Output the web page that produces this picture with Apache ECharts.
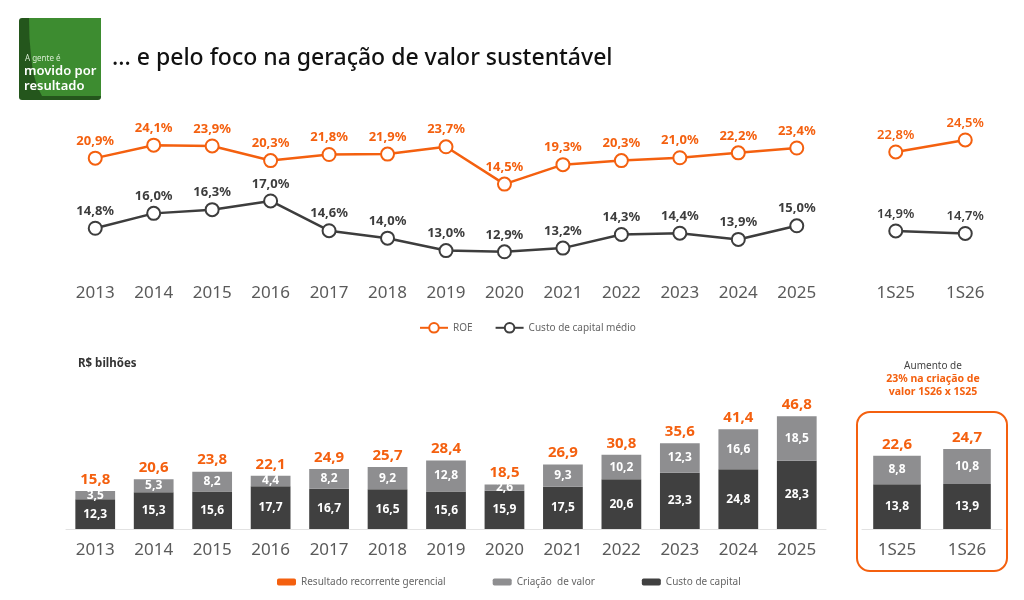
<!DOCTYPE html>
<html>
<head>
<meta charset="utf-8">
<script src="https://cdn.jsdelivr.net/npm/echarts@6/dist/echarts.min.js"></script>
<style>
  html, body { margin: 0; padding: 0; background: #fff; }
  #chart { width: 1024px; height: 600px; }
</style>
</head>
<body>
<div id="chart"></div>
<script>
var years = ['2013', '2014', '2015', '2016', '2017', '2018', '2019', '2020', '2021', '2022', '2023', '2024', '2025'];
var halves = ['1S25', '1S26'];

// retorno e custo de capital (%)
var roe = [20.9, 24.1, 23.9, 20.3, 21.8, 21.9, 23.7, 14.5, 19.3, 20.3, 21.0, 22.2, 23.4];
var roeHalf = [22.8, 24.5];
var custoMedio = [14.8, 16.0, 16.3, 17.0, 14.6, 14.0, 13.0, 12.9, 13.2, 14.3, 14.4, 13.9, 15.0];
var custoMedioHalf = [14.9, 14.7];

// R$ bilhões
var custoCapital = [12.3, 15.3, 15.6, 17.7, 16.7, 16.5, 15.6, 15.9, 17.5, 20.6, 23.3, 24.8, 28.3];
var criacaoValor = [3.5, 5.3, 8.2, 4.4, 8.2, 9.2, 12.8, 2.6, 9.3, 10.2, 12.3, 16.6, 18.5];
var resultado = [15.8, 20.6, 23.8, 22.1, 24.9, 25.7, 28.4, 18.5, 26.9, 30.8, 35.6, 41.4, 46.8];
var custoCapitalHalf = [13.8, 13.9];
var criacaoValorHalf = [8.8, 10.8];
var resultadoHalf = [22.6, 24.7];

var ORANGE = '#f4600f';
var DARK = '#404040';
var GRAY = '#8e8e90';
var FONT = 'Noto Sans';

function br(v) { return v.toFixed(1).replace('.', ','); }

var myChart = echarts.init(document.getElementById('chart'), null, { renderer: 'canvas' });

function catAxis(grid, data, margin) {
  return {
    type: 'category', gridIndex: grid, data: data,
    axisLine: { show: margin < 20, lineStyle: { color: '#e2e2e2', width: 1 } },
    axisTick: { show: false },
    axisLabel: { margin: margin, fontSize: 17, color: '#5a5a5a', fontFamily: FONT }
  };
}
function valAxis(grid, min, max) {
  return { type: 'value', gridIndex: grid, min: min, max: max, show: false, splitLine: { show: false } };
}
function lineSeries(name, color, x, y, data, weight) {
  return {
    name: name, type: 'line', xAxisIndex: x, yAxisIndex: y, data: data,
    symbol: 'emptyCircle', symbolSize: 13,
    lineStyle: { color: color, width: 2.5 },
    itemStyle: { color: color, borderColor: color, borderWidth: 2.5 },
    label: {
      show: true, position: 'top', distance: 3,
      color: color, fontSize: 13, fontWeight: weight, fontFamily: FONT,
      formatter: function (p) { return br(p.value) + '%'; }
    },
    z: 3
  };
}
function barSeries(name, color, x, y, data, stack) {
  return {
    name: name, type: 'bar', stack: stack, xAxisIndex: x, yAxisIndex: y, data: data,
    barWidth: '68%',
    itemStyle: { color: color },
    label: {
      show: true, position: 'inside', color: '#fff', fontSize: 12, fontWeight: 'bold', fontFamily: FONT,
      formatter: function (p) { return br(p.value); }
    }
  };
}
function totalSeries(x, y, data) {
  return {
    name: 'Resultado recorrente gerencial', type: 'line', xAxisIndex: x, yAxisIndex: y, data: data,
    symbol: 'circle', symbolSize: 2, showSymbol: true,
    lineStyle: { width: 0, opacity: 0 }, itemStyle: { color: 'rgba(0,0,0,0)' },
    label: {
      show: true, position: 'top', distance: 3, color: ORANGE, fontSize: 15, fontWeight: 'bold', fontFamily: FONT,
      formatter: function (p) { return br(p.value); }
    },
    z: 4
  };
}

var option = {
  backgroundColor: '#fff',
  textStyle: { fontFamily: FONT },
  animation: false,
  grid: [
    { left: 66, top: 120, width: 760, height: 140 },
    { left: 861, top: 120, width: 139, height: 140 },
    { left: 66, top: 390, width: 760, height: 139 },
    { left: 862, top: 390, width: 140, height: 139 }
  ],
  xAxis: [
    catAxis(0, years, 25),
    catAxis(1, halves, 25),
    catAxis(2, years, 13),
    catAxis(3, halves, 13)
  ],
  yAxis: [
    valAxis(0, -4.2, 30.3),
    valAxis(0, 12.24, 23.53),
    valAxis(1, 7.5, 27.33),
    valAxis(1, 12.56, 23.85),
    valAxis(2, 0, 57.7),
    valAxis(3, 0, 42.9)
  ],
  legend: [
    {
      data: ['ROE', 'Custo de capital médio'],
      left: 414, top: 317, itemWidth: 28, itemHeight: 12, itemGap: 22,
      textStyle: { fontSize: 10, color: '#666', fontFamily: FONT }
    },
    {
      data: [
        { name: 'Resultado recorrente gerencial', icon: 'roundRect', itemStyle: { color: ORANGE } },
        { name: 'Criação  de valor', icon: 'roundRect', itemStyle: { color: GRAY } },
        { name: 'Custo de capital', icon: 'roundRect', itemStyle: { color: DARK } }
      ],
      left: 272, top: 572, itemWidth: 19, itemHeight: 7, itemGap: 47,
      textStyle: { fontSize: 10, color: '#666', fontFamily: FONT }
    }
  ],
  series: [
    lineSeries('ROE', ORANGE, 0, 0, roe, 'bold'),
    lineSeries('ROE', ORANGE, 1, 2, roeHalf, 600),
    lineSeries('Custo de capital médio', '#3d3d3d', 0, 1, custoMedio, 'bold'),
    lineSeries('Custo de capital médio', '#3d3d3d', 1, 3, custoMedioHalf, 600),
    barSeries('Custo de capital', DARK, 2, 4, custoCapital, 'a'),
    barSeries('Criação  de valor', GRAY, 2, 4, criacaoValor, 'a'),
    totalSeries(2, 4, resultado),
    barSeries('Custo de capital', DARK, 3, 5, custoCapitalHalf, 'b'),
    barSeries('Criação  de valor', GRAY, 3, 5, criacaoValorHalf, 'b'),
    totalSeries(3, 5, resultadoHalf)
  ],
  graphic: [
    // selo
    { type: 'rect', shape: { x: 19, y: 18, width: 82, height: 82, r: 3 }, style: { fill: '#24561c' } },
    {
      type: 'polygon',
      shape: { points: [[29, 18], [101, 18], [101, 96], [42, 96], [37, 86], [33, 72], [31, 56], [29.5, 38]] },
      style: { fill: '#3d8c30' }
    },
    { type: 'text', x: 25, y: 55, style: { text: 'A gente é', fill: '#d8ecd2', fontSize: 8, fontFamily: FONT } },
    { type: 'text', x: 24, y: 65, style: { text: 'movido por', fill: '#fff', fontSize: 13, fontWeight: 600, fontFamily: FONT } },
    { type: 'text', x: 24, y: 80, style: { text: 'resultado', fill: '#fff', fontSize: 13, fontWeight: 600, fontFamily: FONT } },
    // título
    { type: 'text', x: 112, y: 47, style: { text: '... e pelo foco na geração de valor sustentável', fill: '#111', fontSize: 23, fontWeight: 500, fontFamily: FONT } },
    { type: 'text', x: 78, y: 358, style: { text: 'R$ bilhões', fill: '#333', fontSize: 11.5, fontWeight: 'bold', fontFamily: FONT } },
    // destaque semestral
    { type: 'rect', shape: { x: 857, y: 412, width: 150, height: 159, r: 13 }, style: { fill: 'none', stroke: ORANGE, lineWidth: 2 } },
    {
      type: 'text', x: 933, y: 360,
      style: {
        text: '{a|Aumento de}\n{b|23% na criação de}\n{b|valor 1S26 x 1S25}',
        align: 'center', fontFamily: FONT,
        rich: {
          a: { fontSize: 10, fill: '#444', lineHeight: 13, fontFamily: FONT },
          b: { fontSize: 10.5, fill: ORANGE, fontWeight: 'bold', lineHeight: 13, fontFamily: FONT }
        }
      }
    }
  ]
};

myChart.setOption(option);
window.addEventListener('resize', myChart.resize);
</script>
</body>
</html>
